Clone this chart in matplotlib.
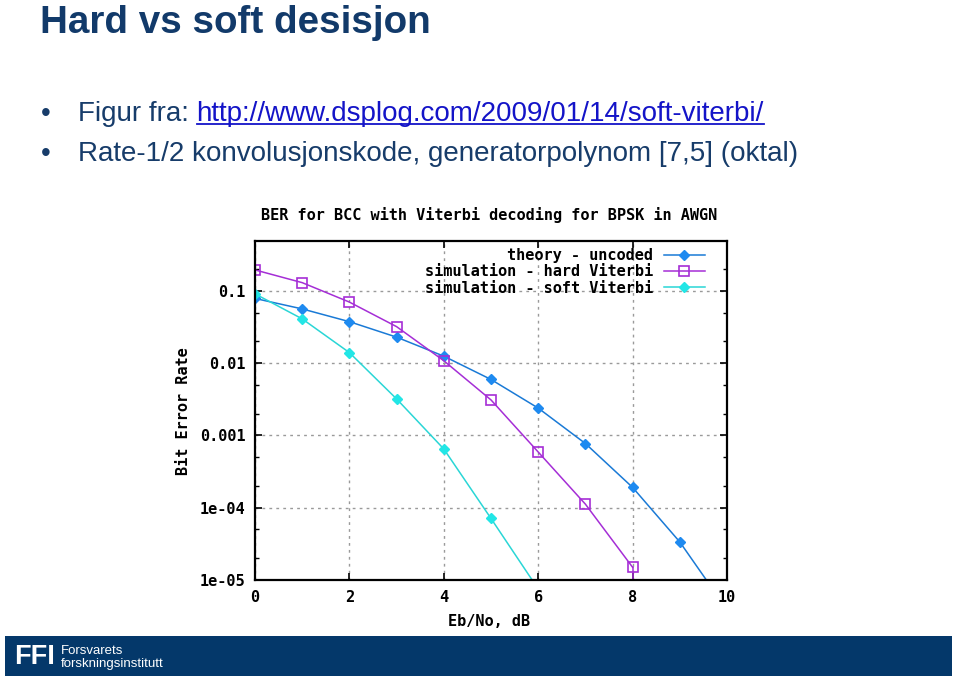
import matplotlib
matplotlib.use("Agg")
import matplotlib.pyplot as plt
from matplotlib.ticker import LogLocator, FixedLocator, NullFormatter, FuncFormatter
from matplotlib.patches import Rectangle
from matplotlib.lines import Line2D

# ---- data ----
ebno = [0, 1, 2, 3, 4, 5, 6, 7, 8, 9, 10]
ber_theory = [0.0786, 0.0563, 0.0375, 0.0229, 0.0125, 0.00595, 0.00239, 0.000773, 0.000191, 3.36e-5, 3.9e-6]
ber_hard = [0.195, 0.13, 0.07, 0.032, 0.0108, 0.0031, 0.00059, 0.000112, 1.5e-5, 0.0, 0.0]
ber_soft = [0.091, 0.041, 0.014, 0.0032, 0.00065, 7.1e-5, 7.5e-6, 0.0, 0.0, 0.0, 0.0]
series_labels = ["theory - uncoded", "simulation - hard Viterbi", "simulation - soft Viterbi"]
xticks = [0, 2, 4, 6, 8, 10]
yticks = [1e-5, 1e-4, 1e-3, 1e-2, 1e-1]
ytick_labels = ["1e-05", "1e-04", "0.001", "0.01", "0.1"]

W, H = 960, 678
fig = plt.figure(figsize=(9.6, 6.78), dpi=100)
fig.patch.set_facecolor("white")

def fx(px):
    return px / W

def fy(py):
    return 1 - py / H

navy = "#173c6a"
link = "#1414c8"

# ---- slide text ----
fig.text(fx(40), fy(33), "Hard vs soft desisjon", fontsize=27.8, fontweight="bold",
         family="Liberation Sans", color="#123a6a", va="baseline", ha="left")
fig.text(fx(41), fy(121), "\u2022", fontsize=20, family="Liberation Sans", color=navy, va="baseline")
fig.text(fx(41), fy(161), "\u2022", fontsize=20, family="Liberation Sans", color=navy, va="baseline")
t1 = fig.text(fx(78), fy(121), "Figur fra: ", fontsize=20, family="Liberation Sans", color=navy, va="baseline")
fig.canvas.draw()
r = fig.canvas.get_renderer()
bb = t1.get_window_extent(r)
t2 = fig.text(bb.x1 / W, fy(121), "http://www.dsplog.com/2009/01/14/soft-viterbi/", fontsize=20,
              family="Liberation Sans", color=link, va="baseline")
bb2 = t2.get_window_extent(r)
fig.add_artist(Line2D([bb2.x0 / W, bb2.x1 / W], [fy(124), fy(124)], color=link, lw=1.3))
fig.text(fx(78), fy(161), "Rate-1/2 konvolusjonskode, generatorpolynom [7,5] (oktal)", fontsize=20,
         family="Liberation Sans", color=navy, va="baseline")

# ---- footer ----
fig.add_artist(Rectangle((fx(5), fy(676)), fx(947), (676 - 636) / H, transform=fig.transFigure,
                         facecolor="#04386a", edgecolor="none"))
fig.text(fx(14), fy(657), "FFI", fontsize=19.5, fontweight="bold", family="Liberation Sans",
         color="white", va="center", ha="left")
fig.text(fx(61), fy(651), "Forsvarets", fontsize=9.5, family="Liberation Sans", color="white", va="center")
fig.text(fx(61), fy(664), "forskningsinstitutt", fontsize=9.5, family="Liberation Sans", color="white", va="center")

# ---- chart ----
mono = "DejaVu Sans Mono"
ax = fig.add_axes([fx(255), fy(580), (727 - 255) / W, (580 - 241) / H])
ax.set_yscale("log", nonpositive="clip")
ymin, ymax = 1e-5, 0.49
c_theory, c_hard, c_soft = "#1a7ad6", "#a52ed6", "#2ad6d6"
styles = [
    (ber_theory, dict(color=c_theory, marker="D", ms=5.5, mfc="#1e8af0", mec="#1e8af0")),
    (ber_hard, dict(color=c_hard, marker="s", ms=7.5, mfc="none", mec=c_hard, mew=1.2)),
    (ber_soft, dict(color=c_soft, marker="D", ms=5.5, mfc="#22e6e6", mec="#22e6e6")),
]
for (vals, st), lab in zip(styles, series_labels):
    xs = [x for x, v in zip(ebno, vals) if v > 0]
    ys = [v for v in vals if v > 0]
    ax.plot(xs, ys, lw=1.1, label=lab, **st)
    # a zero BER after the last measured point drops the curve straight to the axis floor
    if len(ys) < len(vals) and ys[-1] > ymin:
        ax.plot([xs[-1], xs[-1]], [ys[-1], ymin], color=st["color"], lw=1.1)

ax.set_xlim(0, 10)
ax.set_ylim(ymin, ymax)
ax.xaxis.set_major_locator(FixedLocator(xticks))
ax.yaxis.set_major_locator(FixedLocator(yticks))
ax.yaxis.set_major_formatter(FuncFormatter(lambda v, p: ytick_labels[yticks.index(v)] if v in yticks else ""))
ax.yaxis.set_minor_locator(LogLocator(base=10, subs=[2, 5]))
ax.yaxis.set_minor_formatter(NullFormatter())
ax.tick_params(which="both", direction="in", top=True, right=True, colors="black")
ax.tick_params(which="major", length=5, width=1.2, labelsize=11, pad=7)
ax.tick_params(which="minor", length=3, width=1.0)
ax.tick_params(axis="x", which="minor", length=0)
for lbl in ax.get_xticklabels() + ax.get_yticklabels():
    lbl.set_family(mono)
    lbl.set_fontweight("bold")
ax.grid(True, which="major", color="#9a9a9a", linestyle=(0, (2, 3)), lw=1.0)
for s in ax.spines.values():
    s.set_linewidth(1.6)
    s.set_color("black")

leg = ax.legend(loc="upper right", markerfirst=False, frameon=False, handlelength=2.7,
                labelspacing=0.08, borderaxespad=0.0, handletextpad=0.7,
                bbox_to_anchor=(1 - 16 / 472, 1 - 1 / 339),
                prop={"family": mono, "weight": "bold", "size": 11})

fig.text(fx(489), fy(215), "BER for BCC with Viterbi decoding for BPSK in AWGN", family=mono,
         fontweight="bold", fontsize=11, ha="center", va="center")
fig.text(fx(489), fy(622), "Eb/No, dB", family=mono, fontweight="bold", fontsize=11, ha="center", va="center")
fig.text(fx(183), fy(411), "Bit Error Rate", family=mono, fontweight="bold", fontsize=11,
         ha="center", va="center", rotation=90)

fig.savefig("out.png", dpi=100)
